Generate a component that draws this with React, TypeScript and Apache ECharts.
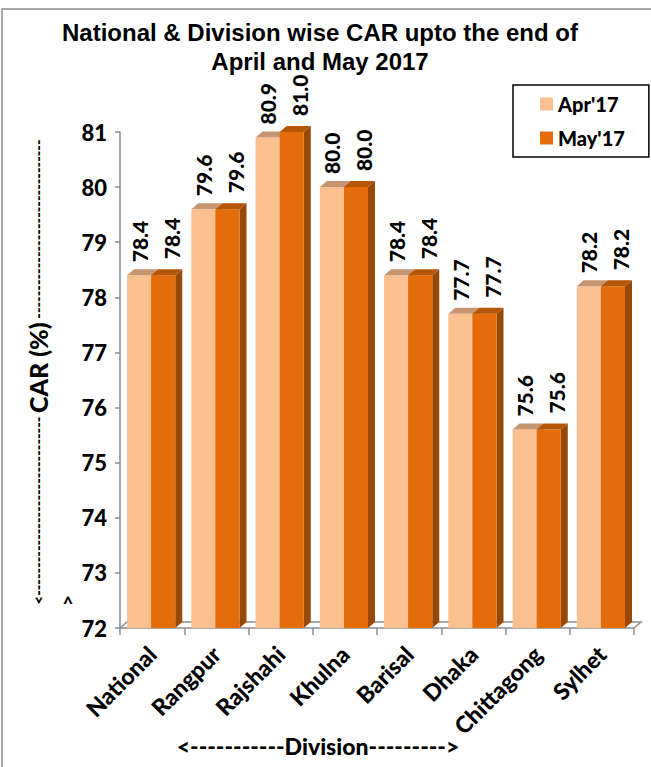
import React, { useEffect, useRef } from "react";
import * as echarts from "echarts";

const categories = ["National", "Rangpur", "Rajshahi", "Khulna", "Barisal", "Dhaka", "Chittagong", "Sylhet"];
const apr17 = [78.4, 79.6, 80.9, 80.0, 78.4, 77.7, 75.6, 78.2];
const may17 = [78.4, 79.6, 81.0, 80.0, 78.4, 77.7, 75.6, 78.2];
const seriesNames = ["Apr'17", "May'17"];
const yMin = 72;
const yMax = 81;
const yStep = 1;

const titleText = "National & Division wise CAR upto the end of\nApril and May 2017";
const yTitle = "{d|<" + "-".repeat(32) + " }{t|CAR (%)}{d| " + "-".repeat(32) + "}";
const xTitle = "<-----------Division--------->";

const FONT = "Lato";
const W = 900;
const AXIS_GRAY = "#8c8c8c";

const palettes = [
  { front: "#FAC090", top: "#C79670", side: "#D9A070" },
  { front: "#E46C0A", top: "#B35608", side: "#984807" },
];

function makeBarRender(idx: number) {
  const pal = palettes[idx];
  return (params: any, api: any) => {
    const ci = api.value(0);
    const v = api.value(1);
    const top = api.coord([ci, v]);
    const base = api.coord([ci, yMin]);
    const bw = api.size([1, 0])[0];
    const left = top[0] - bw / 2;
    const w = bw * 0.375;
    const x0 = left + bw * 0.11 + idx * w;
    const dx = 7;
    const dy = 6;
    const yT = top[1];
    const yB = base[1];
    const lx = idx === 0 ? x0 + w / 2 : x0 + w / 2 + 8;
    const ly = idx === 0 ? yT - 13 : yT - 16;
    return {
      type: "group",
      children: [
        {
          type: "polygon",
          shape: { points: [[x0 + w, yT], [x0 + w + dx, yT - dy], [x0 + w + dx, yB - dy], [x0 + w, yB]] },
          style: { fill: pal.side },
        },
        {
          type: "rect",
          shape: { x: x0, y: yT, width: w, height: yB - yT },
          style: { fill: pal.front },
        },
        {
          type: "polygon",
          shape: { points: [[x0, yT], [x0 + w, yT], [x0 + w + dx, yT - dy], [x0 + dx, yT - dy]] },
          style: { fill: pal.top },
        },
        {
          type: "text",
          x: lx,
          y: ly,
          rotation: Math.PI / 2,
          style: {
            text: v.toFixed(1),
            align: "left",
            verticalAlign: "middle",
            fontFamily: FONT,
            fontWeight: W,
            fontSize: 21,
            fill: "#000",
          },
        },
      ],
    };
  };
}

function floorRender(params: any, api: any) {
  const p = api.coord([0, yMin]);
  const bw = api.size([1, 0])[0];
  const left = p[0] - bw / 2;
  const right = left + bw * categories.length;
  const y = p[1];
  return {
    type: "group",
    children: [
      {
        type: "polyline",
        shape: { points: [[left, y], [left + 7, y - 6], [right + 7, y - 6], [right, y]] },
        style: { stroke: AXIS_GRAY, lineWidth: 1.5, fill: "none" },
      },
    ],
  };
}

export default function App() {
  const ref = useRef<HTMLDivElement>(null);
  useEffect(() => {
    if (!ref.current) return;
    const chart = echarts.init(ref.current, undefined, { renderer: "svg" });
    const option: any = {
      animation: false,
      backgroundColor: "#fff",
      grid: { left: 120, right: 17, top: 132, bottom: 139, containLabel: false },
      legend: {
        data: seriesNames.map((n) => ({ name: n, icon: "rect" })),
        orient: "vertical",
        left: 513,
        top: 85,
        itemWidth: 13,
        itemHeight: 13,
        itemGap: 14,
        padding: [9, 24, 9, 27],
        borderColor: "#000",
        borderWidth: 1.5,
        textStyle: { fontFamily: FONT, fontWeight: W, fontSize: 20, color: "#000" },
      },
      xAxis: {
        type: "category",
        data: categories,
        boundaryGap: true,
        axisLine: { show: true, lineStyle: { color: AXIS_GRAY, width: 1.5 } },
        axisTick: { show: true, length: 7, lineStyle: { color: AXIS_GRAY, width: 1.5 } },
        axisLabel: {
          interval: 0,
          rotate: 45,
          margin: 22,
          fontFamily: FONT,
          fontWeight: W,
          fontSize: 23,
          color: "#000",
        },
        splitLine: { show: false },
      },
      yAxis: {
        type: "value",
        min: yMin,
        max: yMax,
        interval: yStep,
        axisLine: { show: true, lineStyle: { color: AXIS_GRAY, width: 1.5 } },
        axisTick: { show: true, length: 5, lineStyle: { color: AXIS_GRAY, width: 1.5 } },
        axisLabel: { margin: 13, fontFamily: FONT, fontWeight: W, fontSize: 22, color: "#000" },
        splitLine: { show: false },
      },
      series: [
        {
          name: "floor",
          type: "custom",
          renderItem: floorRender,
          data: [[0, yMin]],
          encode: { x: 0, y: 1 },
          silent: true,
          z: 1,
        },
        {
          name: seriesNames[0],
          type: "custom",
          renderItem: makeBarRender(0),
          data: apr17.map((v, i) => [i, v]),
          encode: { x: 0, y: 1 },
          itemStyle: { color: palettes[0].front },
          z: 2,
        },
        {
          name: seriesNames[1],
          type: "custom",
          renderItem: makeBarRender(1),
          data: may17.map((v, i) => [i, v]),
          encode: { x: 0, y: 1 },
          itemStyle: { color: palettes[1].front },
          z: 3,
        },
      ],
      graphic: [
        {
          type: "rect",
          shape: { x: 2, y: 9, width: 700, height: 800 },
          style: { fill: "none", stroke: AXIS_GRAY, lineWidth: 1.5 },
          z: -10,
        },
        {
          type: "text",
          x: 320,
          y: 47,
          style: {
            text: titleText,
            align: "center",
            verticalAlign: "middle",
            fontFamily: "Liberation Sans",
            fontWeight: "bold",
            fontSize: 24,
            lineHeight: 29,
            fill: "#000",
          },
        },
        {
          type: "text",
          x: 38,
          y: 372,
          rotation: Math.PI / 2,
          style: {
            text: yTitle,
            align: "center",
            verticalAlign: "middle",
            fill: "#000",
            rich: {
              d: { fontFamily: FONT, fontWeight: W, fontSize: 15, fill: "#000" },
              t: { fontFamily: FONT, fontWeight: W, fontSize: 25, fill: "#000" },
            },
          },
        },
        {
          type: "text",
          x: 68,
          y: 603,
          style: {
            text: "^",
            align: "center",
            verticalAlign: "middle",
            fontFamily: FONT,
            fontWeight: W,
            fontSize: 18,
            fill: "#000",
          },
        },
        {
          type: "text",
          x: 318,
          y: 746,
          style: {
            text: xTitle,
            align: "center",
            verticalAlign: "middle",
            fontFamily: FONT,
            fontWeight: W,
            fontSize: 23,
            fill: "#000",
          },
        },
      ],
    };
    chart.setOption(option);
    return () => chart.dispose();
  }, []);
  return (
    <div
      ref={ref}
      style={{ position: "fixed", left: 0, top: 0, width: 651, height: 767, background: "#fff" }}
    />
  );
}
